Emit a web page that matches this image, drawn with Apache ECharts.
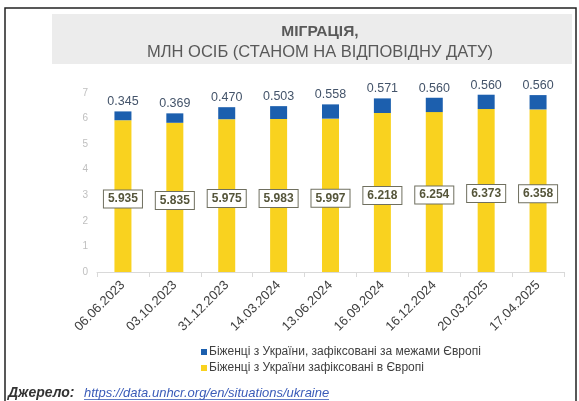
<!doctype html>
<html lang="uk">
<head>
	<meta charset="utf-8">
	<title>Міграція</title>
	<script src="https://cdn.jsdelivr.net/npm/echarts@6/dist/echarts.min.js"></script>
	<style>
		html, body { margin: 0; padding: 0; background: #fff; }
		#chart { width: 579px; height: 401px; }
	</style>
</head>
<body>
	<div id="chart"></div>
	<script>
		// dates of each snapshot
		var dates = ['06.06.2023', '03.10.2023', '31.12.2023', '14.03.2024', '13.06.2024',
			'16.09.2024', '16.12.2024', '20.03.2025', '17.04.2025'];
		// refugees recorded in Europe, mln
		var inEurope = [5.935, 5.835, 5.975, 5.983, 5.997, 6.218, 6.254, 6.373, 6.358];
		// refugees recorded outside Europe, mln
		var outsideEurope = [0.345, 0.369, 0.470, 0.503, 0.558, 0.571, 0.560, 0.560, 0.560];
		var yTicks = [0, 1, 2, 3, 4, 5, 6, 7];

		var font = 'Liberation Sans, Arial, sans-serif';

		var option = {
			animation: false,
			textStyle: { fontFamily: font },
			title: {
				text: '{b|МІГРАЦІЯ,}\n{n|МЛН ОСІБ (СТАНОМ НА ВІДПОВІДНУ ДАТУ)}',
				left: 315,
				textAlign: 'center',
				top: 17,
				textStyle: {
					fontWeight: 'normal',
					rich: {
						b: { fontSize: 15.5, fontWeight: 'bold', color: '#595959', lineHeight: 20, fontFamily: font },
						n: { fontSize: 16.5, fontWeight: 'normal', color: '#595959', lineHeight: 20, fontFamily: font }
					}
				}
			},
			graphic: [
				{ type: 'rect', z: -10, shape: { x: 5, y: 8, width: 571, height: 400 },
					style: { fill: 'none', stroke: '#222', lineWidth: 1.5 } },
				{ type: 'rect', z: -9, shape: { x: 52, y: 14, width: 520, height: 50 },
					style: { fill: '#ececec' } },
				{ type: 'text', x: 8, y: 393,
					style: { text: 'Джерело:', font: 'italic bold 14px ' + font, fill: '#333', verticalAlign: 'middle' } },
				{ type: 'text', x: 84, y: 393,
					style: { text: 'https://data.unhcr.org/en/situations/ukraine', font: 'italic 13px ' + font, fill: '#3a5bb8', verticalAlign: 'middle' } },
				{ type: 'line', shape: { x1: 84, y1: 399.5, x2: 329, y2: 399.5 },
					style: { stroke: '#3a5bb8', lineWidth: 0.8 } }
			],
			legend: {
				orient: 'vertical',
				left: 196,
				top: 341,
				itemWidth: 6,
				itemHeight: 6,
				itemGap: 4,
				icon: 'rect',
				textStyle: { fontSize: 12, color: '#404040', fontFamily: font, padding: [0, 0, 0, -3] },
				data: ['Біженці з України, зафіксовані за межами Європі', 'Біженці з України зафіксовані в Європі']
			},
			grid: { left: 97, right: 15, top: 93, bottom: 129 },
			xAxis: {
				type: 'category',
				data: dates,
				axisLine: { lineStyle: { color: '#d9d9d9' } },
				axisTick: { show: true, lineStyle: { color: '#d9d9d9' } },
				axisLabel: { rotate: 45, fontSize: 13, color: '#404040', margin: 11 }
			},
			yAxis: {
				type: 'value',
				min: yTicks[0],
				max: yTicks[yTicks.length - 1],
				interval: 1,
				splitLine: { show: false },
				axisLine: { show: false },
				axisLabel: { fontSize: 10, color: '#bfbfbf', margin: 9 }
			},
			series: [
				{
					name: 'Біженці з України зафіксовані в Європі',
					type: 'bar',
					stack: 'total',
					barWidth: 17,
					data: inEurope,
					itemStyle: { color: '#f9d21f' },
					label: {
						show: true,
						position: 'inside',
						offset: [0, 3],
						formatter: function (p) { return p.value.toFixed(3); },
						fontSize: 12,
						fontWeight: 'bold',
						color: '#55553a',
						backgroundColor: '#fff',
						borderColor: '#6f6f5f',
						borderWidth: 1,
						padding: [3, 4, 2, 4]
					}
				},
				{
					name: 'Біженці з України, зафіксовані за межами Європі',
					type: 'bar',
					stack: 'total',
					barWidth: 17,
					data: outsideEurope,
					itemStyle: { color: '#1c5fae' },
					label: {
						show: true,
						position: 'top',
						distance: 3,
						formatter: function (p) { return p.value.toFixed(3); },
						fontSize: 12.5,
						color: '#44546a'
					}
				}
			]
		};

		var chart = echarts.init(document.getElementById('chart'), null, { renderer: 'canvas' });
		chart.setOption(option);
	</script>
</body>
</html>
